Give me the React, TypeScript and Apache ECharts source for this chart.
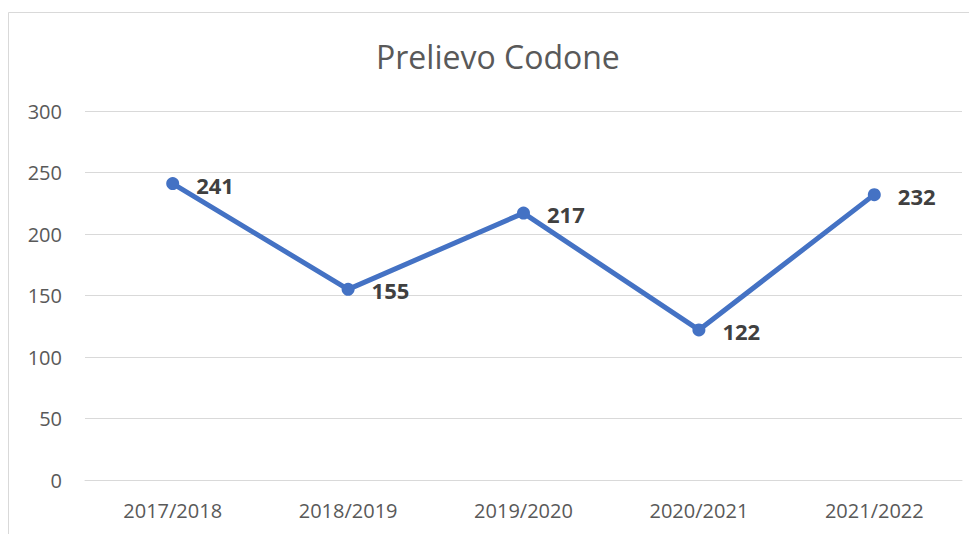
import React, { useEffect, useRef } from "react";
import * as echarts from "echarts";

const categories = ["2017/2018", "2018/2019", "2019/2020", "2020/2021", "2021/2022"];
const values = [241, 155, 217, 122, 232];
const titleText = "Prelievo Codone";

export default function App() {
  const ref = useRef<HTMLDivElement>(null);
  useEffect(() => {
    if (!ref.current) return;
    const chart = echarts.init(ref.current, null, { renderer: "svg" });
    const font = "'Open Sans', 'Noto Sans', sans-serif";
    chart.setOption({
      animation: false,
      backgroundColor: "#ffffff",
      title: {
        text: titleText,
        left: 368,
        top: 32,
        padding: 0,
        textStyle: { fontFamily: font, fontSize: 32, fontWeight: "normal", color: "#595959" },
      },
      graphic: [
        {
          type: "rect",
          shape: { x: 0.5, y: 4.5, width: 2000, height: 2000 },
          style: { fill: "none", stroke: "#d9d9d9", lineWidth: 1 },
          silent: true,
        },
      ],
      grid: { left: 77, right: 15, top: 103, bottom: 54 },
      xAxis: {
        type: "category",
        data: categories,
        boundaryGap: true,
        axisLine: { show: true, lineStyle: { color: "#d9d9d9", width: 1 } },
        axisTick: { show: false },
        axisLabel: { fontFamily: font, fontSize: 20, color: "#595959", margin: 20 },
      },
      yAxis: {
        type: "value",
        min: 0,
        max: 300,
        interval: 50,
        axisLine: { show: false },
        axisTick: { show: false },
        splitLine: { lineStyle: { color: "#d9d9d9", width: 1 } },
        axisLabel: { fontFamily: font, fontSize: 20, color: "#595959", margin: 23 },
      },
      series: [
        {
          type: "line",
          data: values,
          symbol: "circle",
          symbolSize: 13,
          lineStyle: { color: "#4472c4", width: 5 },
          itemStyle: { color: "#4472c4" },
          label: {
            show: true,
            position: "right",
            distance: 17,
            fontFamily: font,
            fontSize: 22,
            fontWeight: "bold",
            color: "#404040",
            offset: [0, 1],
          },
        },
      ],
    });
    return () => chart.dispose();
  }, []);
  return <div ref={ref} style={{ width: 969, height: 526 }} />;
}
